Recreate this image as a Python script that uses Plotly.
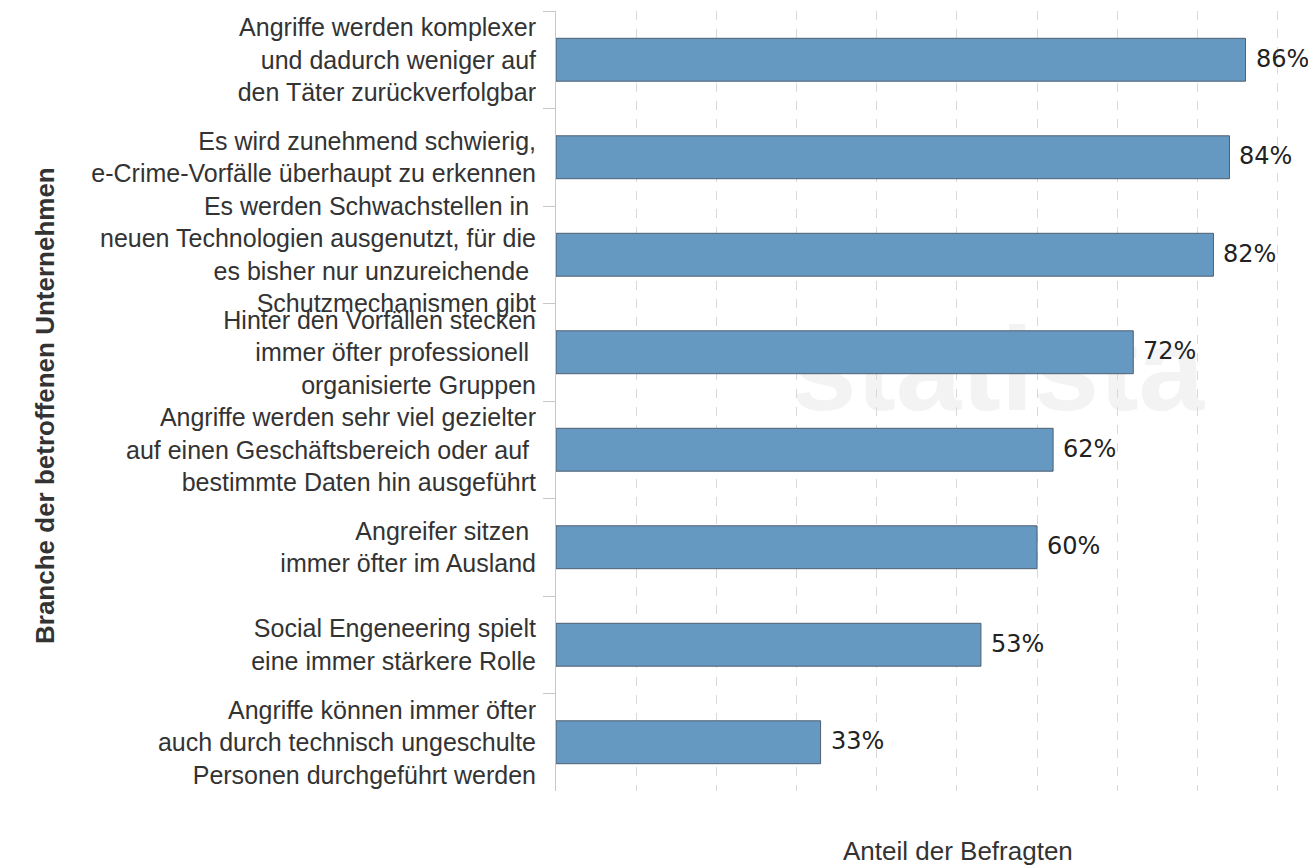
import plotly.graph_objects as go

# ---- data ----
categories = [
    "Angriffe werden komplexer<br>und dadurch weniger auf<br>den Täter zurückverfolgbar",
    "Es wird zunehmend schwierig,<br>e-Crime-Vorfälle überhaupt zu erkennen",
    "Es werden Schwachstellen in\u00a0<br>neuen Technologien ausgenutzt, für die<br>es bisher nur unzureichende\u00a0<br>Schutzmechanismen gibt",
    "Hinter den Vorfällen stecken<br>immer öfter professionell\u00a0<br>organisierte Gruppen",
    "Angriffe werden sehr viel gezielter<br>auf einen Geschäftsbereich oder auf\u00a0<br>bestimmte Daten hin ausgeführt",
    "Angreifer sitzen\u00a0<br>immer öfter im Ausland",
    "Social Engeneering spielt<br>eine immer stärkere Rolle",
    "Angriffe können immer öfter<br>auch durch technisch ungeschulte<br>Personen durchgeführt werden",
]
values = [86, 84, 82, 72, 62, 60, 53, 33]
value_labels = [f"{v}%" for v in values]
x_title = "Anteil der Befragten"
y_title = "Branche der betroffenen Unternehmen"

# page has an 8px body margin; figure sized to fit the window
OFF = 8
W, H = 1308, 859
L, R, T, B = 548, 36, 3, 76

fig = go.Figure()
fig.add_trace(go.Bar(
    y=categories,
    x=values,
    orientation="h",
    width=0.44,
    marker=dict(color="#6699c2", line=dict(color="#4f5f70", width=1)),
    hoverinfo="skip",
))

for c, v, t in zip(categories, values, value_labels):
    fig.add_annotation(
        x=v, y=c, xref="x", yref="y", text=t, showarrow=False,
        xanchor="left", yanchor="middle", xshift=8, yshift=1,
        font=dict(family="DejaVu Sans", size=24, color="#222222"),
    )

pw = W - L - R
ph = H - T - B

def px_to_paper(px, py):
    fx, fy = px - OFF, py - OFF
    return (fx - L) / pw, (H - B - fy) / ph

# axis titles
ax, ay = px_to_paper(958, 851)
fig.add_annotation(
    x=ax, y=ay, xref="paper", yref="paper", text=x_title, showarrow=False,
    xanchor="center", yanchor="middle",
    font=dict(family="Liberation Sans, Arial", size=26, color="#333333"),
)
ax, ay = px_to_paper(45, 406)
fig.add_annotation(
    x=ax, y=ay, xref="paper", yref="paper", text=f"<b>{y_title}</b>", showarrow=False,
    textangle=-90, xanchor="center", yanchor="middle",
    font=dict(family="Liberation Sans, Arial", size=26, color="#333333"),
)

# watermark (behind the bars)
wx0, wy0 = px_to_paper(770, 420)
wx1, wy1 = px_to_paper(1225, 295)
fig.add_shape(
    type="rect", xref="paper", yref="paper", x0=wx0, x1=wx1, y0=wy0, y1=wy1,
    line=dict(width=0), fillcolor="rgba(0,0,0,0)", layer="below",
    label=dict(text="<b>statista</b>", textposition="middle center",
               font=dict(family="Liberation Sans, Arial", size=118, color="#f3f3f3")),
)

fig.update_layout(
    width=W, height=H,
    margin=dict(l=L, r=R, t=T, b=B, autoexpand=False),
    paper_bgcolor="white", plot_bgcolor="white",
    showlegend=False,
)

fig.update_xaxes(
    range=[0, 90.3], dtick=10, showticklabels=False, ticks="",
    showgrid=True, gridcolor="#d9d9d9", griddash="dash", gridwidth=1,
    zeroline=False, showline=False, fixedrange=True,
)
fig.update_yaxes(
    type="category", autorange="reversed", automargin=False,
    tickson="boundaries", ticks="outside", ticklen=12, tickcolor="#c8c8c8",
    showline=True, linecolor="#c8c8c8", linewidth=1, showgrid=False,
    ticklabelstandoff=14,
    tickfont=dict(family="Liberation Sans, Arial", size=25, color="#333333"),
)

fig.write_html("out.html")
